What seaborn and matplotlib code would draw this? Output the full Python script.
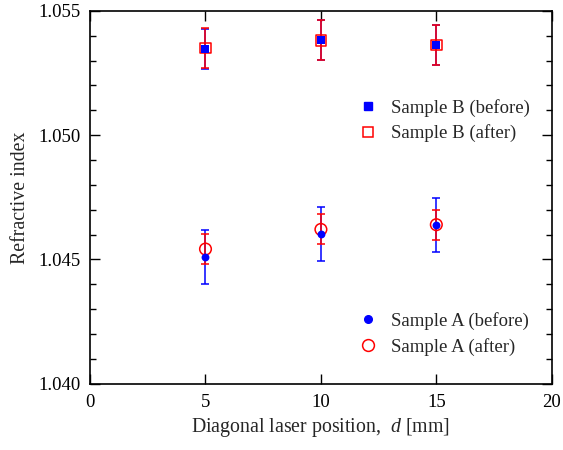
import numpy as np
import pandas as pd
import matplotlib
matplotlib.use("Agg")
import matplotlib.pyplot as plt
from matplotlib.lines import Line2D
from matplotlib.ticker import MultipleLocator, FormatStrFormatter
import seaborn as sns

# Measurement positions [mm]
positions = [5, 10, 15]

# Sample A refractive index and uncertainties
a_before = [1.04510, 1.04602, 1.04639]
a_before_err = [0.0011, 0.0011, 0.0011]
a_after = [1.04542, 1.04621, 1.04640]
a_after_err = [0.0006, 0.0006, 0.0006]

# Sample B refractive index and uncertainties
b_before = [1.05347, 1.05382, 1.05363]
b_before_err = [0.0008, 0.0008, 0.0008]
b_after = [1.05350, 1.05381, 1.05362]
b_after_err = [0.0008, 0.0008, 0.0008]

BLUE = "#0000ff"
RED = "#ff0000"

sns.set_theme(style="ticks")
plt.rcParams["font.family"] = ["Liberation Serif", "DejaVu Serif"]
plt.rcParams["mathtext.fontset"] = "custom"
plt.rcParams["mathtext.rm"] = "Liberation Serif"
plt.rcParams["mathtext.it"] = "Liberation Serif:italic"

df = pd.DataFrame({
    "d": positions * 4,
    "n": a_before + a_after + b_before + b_after,
    "err": a_before_err + a_after_err + b_before_err + b_after_err,
    "series": (["Sample A (before)"] * 3 + ["Sample A (after)"] * 3
               + ["Sample B (before)"] * 3 + ["Sample B (after)"] * 3),
})

fig, ax = plt.subplots(figsize=(5.63, 4.5), dpi=100)
fig.subplots_adjust(left=0.160, right=0.980, top=0.976, bottom=0.147)

def bars(name, color):
    sub = df[df["series"] == name]
    ax.errorbar(sub["d"], sub["n"], yerr=sub["err"], fmt="none",
                ecolor=color, elinewidth=1.1, capsize=3, capthick=1.1, zorder=2)

bars("Sample A (before)", BLUE)
bars("Sample B (before)", BLUE)
bars("Sample A (after)", RED)
bars("Sample B (after)", RED)

style = {
    "Sample A (after)": dict(marker="o", s=70, facecolor="none", edgecolor=RED, linewidth=1.1),
    "Sample B (after)": dict(marker="s", s=56, facecolor="none", edgecolor=RED, linewidth=1.1),
    "Sample A (before)": dict(marker="o", s=32, color=BLUE, edgecolor=BLUE, linewidth=0),
    "Sample B (before)": dict(marker="s", s=30, color=BLUE, edgecolor=BLUE, linewidth=0),
}
for name, kw in style.items():
    sns.scatterplot(data=df[df["series"] == name], x="d", y="n", ax=ax,
                    legend=False, zorder=3, **kw)

ax.set_xlim(0, 20)
ax.set_ylim(1.040, 1.055)
ax.xaxis.set_major_locator(MultipleLocator(5))
ax.yaxis.set_major_locator(MultipleLocator(0.005))
ax.yaxis.set_minor_locator(MultipleLocator(0.001))
ax.yaxis.set_major_formatter(FormatStrFormatter("%.3f"))
ax.tick_params(which="both", direction="in", top=True, right=True,
               labelsize=13.5, colors="black", width=1.0, pad=7)
ax.tick_params(which="major", length=7)
ax.tick_params(which="minor", length=4)
for sp in ax.spines.values():
    sp.set_linewidth(1.2)
    sp.set_color("black")

ax.set_xlabel("Diagonal laser position,  $d$ [mm]", fontsize=14.3, labelpad=4)
ax.set_ylabel("Refractive index", fontsize=14.3, labelpad=6)

def handle(name):
    kw = style[name]
    if kw.get("facecolor") == "none":
        return Line2D([], [], linestyle="none", marker=kw["marker"],
                      markersize=8.5 if kw["marker"] == "o" else 7.5,
                      markerfacecolor="none", markeredgecolor=RED, markeredgewidth=1.1)
    return Line2D([], [], linestyle="none", marker=kw["marker"],
                  markersize=5.5,
                  markerfacecolor=BLUE, markeredgecolor=BLUE)

leg_kw = dict(frameon=False, fontsize=13.5, handlelength=1.0, handletextpad=0.75,
              labelspacing=0.4, borderaxespad=0, loc="center left")
names_b = ["Sample B (before)", "Sample B (after)"]
leg_b = ax.legend([handle(n) for n in names_b], names_b,
                  bbox_to_anchor=(0.565, 0.706), **leg_kw)
ax.add_artist(leg_b)
names_a = ["Sample A (before)", "Sample A (after)"]
ax.legend([handle(n) for n in names_a], names_a,
          bbox_to_anchor=(0.565, 0.134), **leg_kw)

fig.savefig("out.png", dpi=100)
